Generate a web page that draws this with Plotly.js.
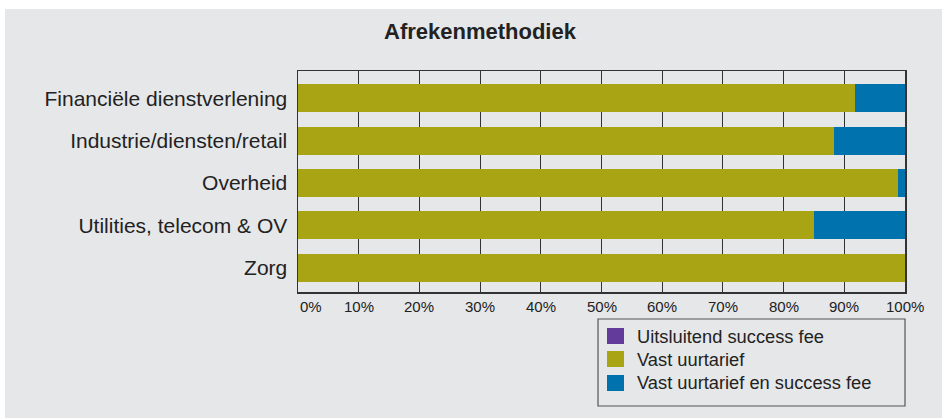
<!DOCTYPE html>
<html>
<head>
<meta charset="utf-8">
<script src="https://cdn.plot.ly/plotly-3.0.1.min.js"></script>
<style>
  html, body { margin: 0; padding: 0; background: #ffffff; }
  #chart { position: absolute; left: 5px; top: 9px; width: 937px; height: 409px; }
</style>
</head>
<body>
<div id="chart"></div>
<script>
// ---- data ----
const categories = ["Financiële dienstverlening", "Industrie/diensten/retail", "Overheid", "Utilities, telecom & OV", "Zorg"];
const seriesNames = ["Uitsluitend success fee", "Vast uurtarief", "Vast uurtarief en success fee"];
const successFee = [0, 0, 0, 0, 0];
const vastUurtarief = [91.8, 88.3, 98.8, 85.0, 100];
const vastEnSuccess = [8.2, 11.7, 1.2, 15.0, 0];
const tickValues = [0, 10, 20, 30, 40, 50, 60, 70, 80, 90, 100];
const tickLabels = ["0%", "10%", "20%", "30%", "40%", "50%", "60%", "70%", "80%", "90%", "100%"];

// ---- style ----
const colors = ["#633c9b", "#a9a413", "#0073ae"];
const FONT = "Liberation Sans, Arial, sans-serif";
const TEXT = "#222222";
const BG = "#e6e7e9";

const W = 937, H = 409;
const M = { l: 293, r: 37, t: 62, b: 126 };
const PW = W - M.l - M.r, PH = H - M.t - M.b;
const px2x = p => (p - M.l) / PW;
const py2y = p => (M.t + PH - p) / PH;

const seriesValues = [successFee, vastUurtarief, vastEnSuccess];
const traces = seriesNames.map((name, i) => ({
  type: "bar",
  orientation: "h",
  name: name,
  y: categories,
  x: seriesValues[i],
  width: 0.66,
  marker: { color: colors[i], line: { width: 0 } },
  hoverinfo: "none"
}));

const annotations = tickValues.map((v, i) => ({
  xref: "x", yref: "paper",
  x: v, y: 0, yshift: -14,
  text: tickLabels[i],
  showarrow: false,
  xanchor: i === 0 ? "left" : "center",
  yanchor: "middle",
  font: { family: FONT, size: 15, color: TEXT }
}));

// legend (manual)
const shapes = [{
  type: "rect", xref: "paper", yref: "paper",
  x0: px2x(593), x1: px2x(900), y0: py2y(310), y1: py2y(397),
  line: { color: "#555555", width: 1.2 }, fillcolor: BG, layer: "above"
}];
const rowY = [327, 350, 374];
seriesNames.forEach((name, i) => {
  shapes.push({
    type: "rect", xref: "paper", yref: "paper",
    x0: px2x(602), x1: px2x(619), y0: py2y(rowY[i] + 8), y1: py2y(rowY[i] - 8),
    line: { width: 0 }, fillcolor: colors[i], layer: "above"
  });
  annotations.push({
    xref: "paper", yref: "paper",
    x: px2x(630), y: py2y(rowY[i]),
    text: name, showarrow: false,
    xanchor: "left", yanchor: "middle",
    font: { family: FONT, size: 18.3, color: TEXT }
  });
});

const layout = {
  width: W, height: H,
  paper_bgcolor: BG, plot_bgcolor: BG,
  margin: M,
  barmode: "stack",
  showlegend: false,
  title: {
    text: "<b>Afrekenmethodiek</b>",
    x: 475 / W, xref: "container", xanchor: "center",
    y: 1 - 22 / H, yref: "container", yanchor: "middle",
    font: { family: FONT, size: 22, color: TEXT }
  },
  xaxis: {
    range: [0, 100],
    tickvals: tickValues,
    showticklabels: false,
    ticks: "",
    showgrid: true, gridcolor: "#333333", gridwidth: 1,
    zeroline: false,
    showline: true, linecolor: "#333333", linewidth: 1.5, mirror: true,
    fixedrange: true
  },
  yaxis: {
    type: "category",
    categoryorder: "array", categoryarray: categories,
    range: [4.57, -0.64],
    showgrid: false, zeroline: false,
    ticks: "", ticklabelstandoff: 5,
    showline: true, linecolor: "#333333", linewidth: 1.5, mirror: true,
    tickfont: { family: FONT, size: 21, color: TEXT },
    fixedrange: true
  },
  annotations: annotations,
  shapes: shapes
};

Plotly.newPlot("chart", traces, layout, { staticPlot: true, displayModeBar: false });
</script>
</body>
</html>
